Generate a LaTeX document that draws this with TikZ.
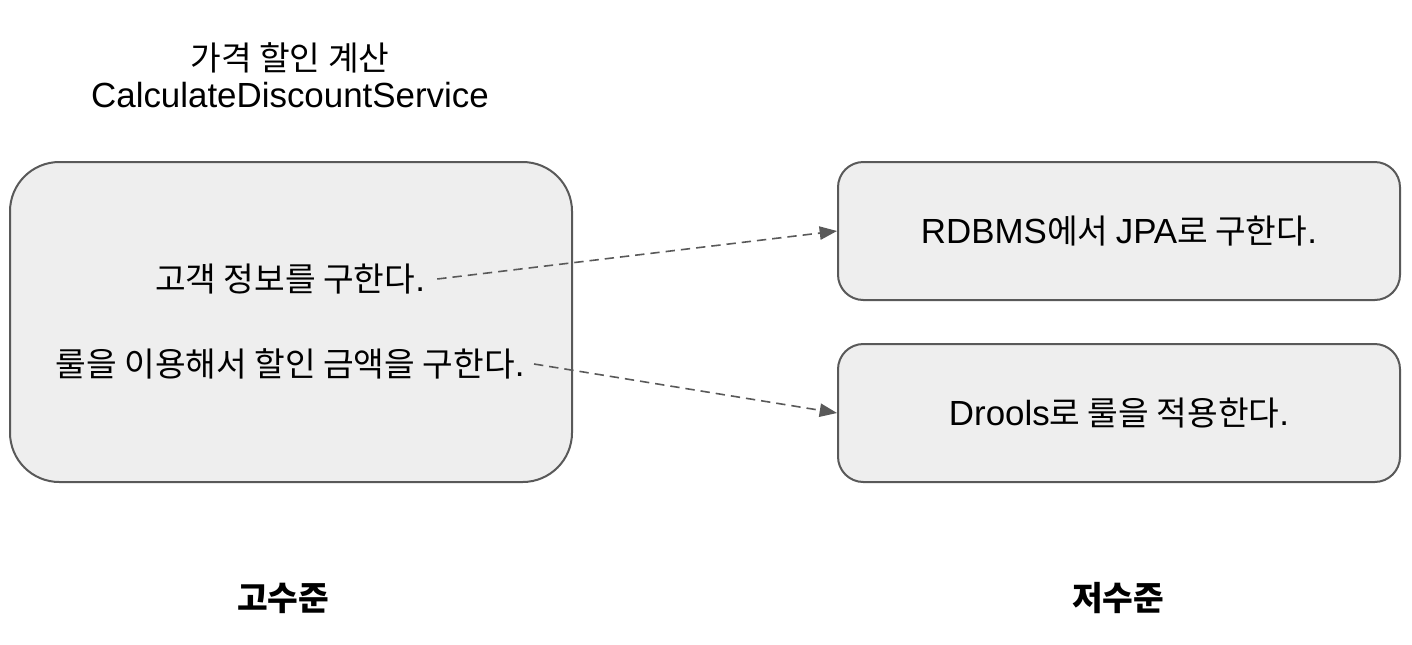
\documentclass[tikz,border=0pt]{standalone}
\usepackage{fontspec}
\setmainfont{Noto Sans CJK KR}
\newfontfamily\lat[Scale=1.047]{Liberation Sans}
\usetikzlibrary{arrows.meta,positioning}
\definecolor{boxfill}{HTML}{EEEEEE}
\definecolor{boxline}{HTML}{595959}
\tikzset{%
	bigbox/.style   = {draw=boxline, fill=boxfill, line width=1.5pt, rounded corners=37pt, minimum width=421.5pt, minimum height=240pt}, % High level
	smallbox/.style = {draw=boxline, fill=boxfill, line width=1.5pt, rounded corners=19pt, minimum width=421.5pt, minimum height=103.5pt}, % Low level
	label/.style    = {font=\fontsize{25}{30}\selectfont, inner sep=1pt}, % Text
	calls/.style    = {draw=boxline, line width=1.2pt, dash pattern=on 7pt off 4.5pt, -{Triangle[length=13pt,width=10pt]}},
}
\begin{document}
\begin{tikzpicture}[x=0.75pt, y=-0.75pt]
	\useasboundingbox (0,0) rectangle (1412,644);
	\node[label, align=center] (title) at (290,75) {가격 할인 계산\\[-2pt]{\lat CalculateDiscountService}};
	\node[bigbox] (high) at (291,322) {};
	\node[smallbox] (jpa) at (1119,231) {};
	\node[smallbox] (drools) at (1119,413) {};
	\node[label] (info) at (290,279) {고객 정보를 구한다{\lat .}};
	\node[label] (rule) at (290,364) {룰을 이용해서 할인 금액을 구한다{\lat .}};
	\node[label] at (jpa) {{\lat RDBMS}에서 {\lat JPA}로 구한다{\lat .}};
	\node[label] at (drools) {{\lat Drools}로 룰을 적용한다{\lat .}};
	\draw[calls] (info.east) ++(8pt,0) -- (jpa.west);
	\draw[calls] (rule.east) ++(6pt,0) -- (drools.west);
	\node[label, font=\fontsize{25}{30}\selectfont\bfseries] (hlevel) at (283,598) {고수준};
	\node[label, font=\fontsize{25}{30}\selectfont\bfseries] (llevel) at (1118,598) {저수준};
\end{tikzpicture}
\end{document}
